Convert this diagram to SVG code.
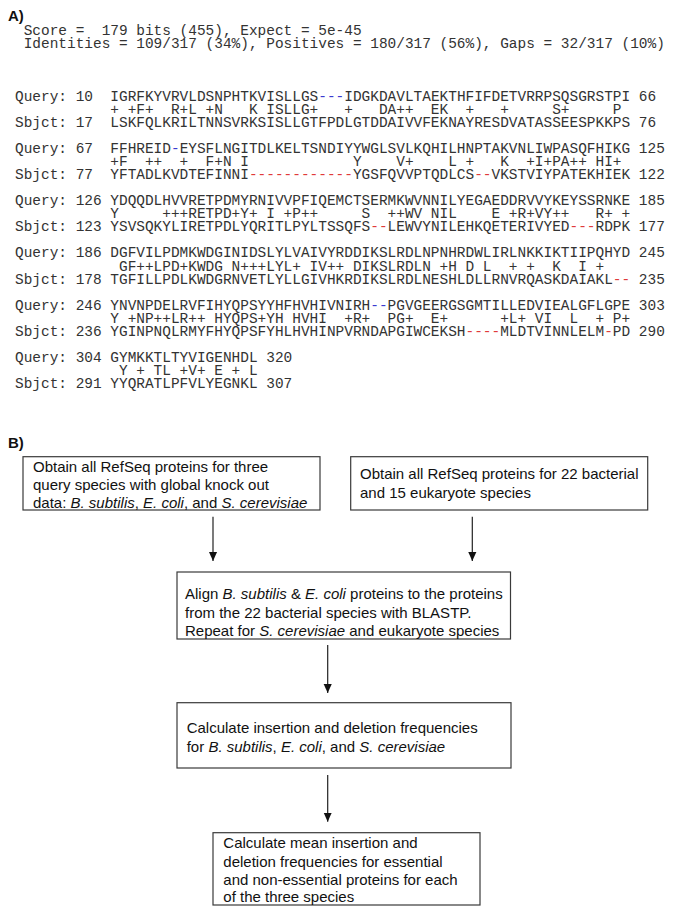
<svg xmlns="http://www.w3.org/2000/svg" width="685" height="913" viewBox="0 0 685 913">
<style>
.lbl{font-family:"Liberation Sans",Arial,sans-serif;font-weight:bold;font-size:15px;fill:#111}
.aln{font-family:"Liberation Mono","DejaVu Sans Mono",monospace;font-size:14.45px;fill:#333}
.gq{fill:#3a3ad0}
.gs{fill:#e03a3a}
.box{fill:#fff;stroke:#3a3a3a;stroke-width:1.2}
.bt{font-family:"Liberation Sans",Arial,sans-serif;font-size:15px;fill:#111}
.it{font-style:italic}
.con{stroke:#222;stroke-width:1.2;fill:none}
</style>
<defs>
<marker id="ah" viewBox="0 0 10 10" refX="10" refY="5" markerWidth="9" markerHeight="9" markerUnits="userSpaceOnUse" orient="auto">
<path d="M0,0.5 L10,5 L0,9.5 z" fill="#111"/>
</marker>
</defs>
<text class="lbl" x="8" y="21">A)</text>
<g id="header" class="aln">
<text x="15" y="35.2" xml:space="preserve"> Score =  179 bits (455), Expect = 5e-45</text>
<text x="15" y="48.2" xml:space="preserve"> Identities = 109/317 (34%), Positives = 180/317 (56%), Gaps = 32/317 (10%)</text>
</g>
<g id="alignment" class="aln">
<text x="15" y="100.5" xml:space="preserve">Query: 10  IGRFKYVRVLDSNPHTKVISLLGS<tspan class="gq">---</tspan>IDGKDAVLTAEKTHFIFDETVRRPSQSGRSTPI 66</text>
<text x="15" y="113.6" xml:space="preserve">           + +F+  R+L +N   K ISLLG+   +   DA++  EK  +   +     S+     P</text>
<text x="15" y="126.6" xml:space="preserve">Sbjct: 17  LSKFQLKRILTNNSVRKSISLLGTFPDLGTDDAIVVFEKNAYRESDVATASSEESPKKPS 76</text>

<text x="15" y="152.8" xml:space="preserve">Query: 67  FFHREID<tspan class="gq">-</tspan>EYSFLNGITDLKELTSNDIYYWGLSVLKQHILHNPTAKVNLIWPASQFHIKG 125</text>
<text x="15" y="165.9" xml:space="preserve">           +F  ++  +  F+N I            Y    V+    L +   K  +I+PA++ HI+</text>
<text x="15" y="178.9" xml:space="preserve">Sbjct: 77  YFTADLKVDTEFINNI<tspan class="gs">------------</tspan>YGSFQVVPTQDLCS<tspan class="gs">--</tspan>VKSTVIYPATEKHIEK 122</text>

<text x="15" y="205.1" xml:space="preserve">Query: 126 YDQQDLHVVRETPDMYRNIVVPFIQEMCTSERMKWVNNILYEGAEDDRVVYKEYSSRNKE 185</text>
<text x="15" y="218.2" xml:space="preserve">           Y     +++RETPD+Y+ I +P++     S  ++WV NIL    E +R+VY++   R+ +</text>
<text x="15" y="231.2" xml:space="preserve">Sbjct: 123 YSVSQKYLIRETPDLYQRITLPYLTSSQFS<tspan class="gs">--</tspan>LEWVYNILEHKQETERIVYED<tspan class="gs">---</tspan>RDPK 177</text>

<text x="15" y="257.4" xml:space="preserve">Query: 186 DGFVILPDMKWDGINIDSLYLVAIVYRDDIKSLRDLNPNHRDWLIRLNKKIKTIIPQHYD 245</text>
<text x="15" y="270.5" xml:space="preserve">            GF++LPD+KWDG N+++LYL+ IV++ DIKSLRDLN +H D L  + +  K  I +</text>
<text x="15" y="283.5" xml:space="preserve">Sbjct: 178 TGFILLPDLKWDGRNVETLYLLGIVHKRDIKSLRDLNESHLDLLRNVRQASKDAIAKL<tspan class="gs">--</tspan> 235</text>

<text x="15" y="309.7" xml:space="preserve">Query: 246 YNVNPDELRVFIHYQPSYYHFHVHIVNIRH<tspan class="gq">--</tspan>PGVGEERGSGMTILLEDVIEALGFLGPE 303</text>
<text x="15" y="322.8" xml:space="preserve">           Y +NP++LR++ HYQPS+YH HVHI  +R+  PG+  E+      +L+ VI  L  + P+</text>
<text x="15" y="335.8" xml:space="preserve">Sbjct: 236 YGINPNQLRMYFHYQPSFYHLHVHINPVRNDAPGIWCEKSH<tspan class="gs">----</tspan>MLDTVINNLELM<tspan class="gs">-</tspan>PD 290</text>

<text x="15" y="362" xml:space="preserve">Query: 304 GYMKKTLTYVIGENHDL 320</text>
<text x="15" y="375.1" xml:space="preserve">            Y + TL +V+ E + L</text>
<text x="15" y="388.1" xml:space="preserve">Sbjct: 291 YYQRATLPFVLYEGNKL 307</text>
</g>
<text class="lbl" x="8" y="448">B)</text>
<g id="node1">
<rect class="box" x="23" y="456.7" width="297" height="53.3"/>
<text class="bt" x="33" y="471.5">Obtain all RefSeq proteins for three</text>
<text class="bt" x="33" y="489.5">query species with global knock out</text>
<text class="bt" x="33" y="507.5">data: <tspan class="it">B. subtilis</tspan>, <tspan class="it">E. coli</tspan>, and <tspan class="it">S. cerevisiae</tspan></text>
</g>
<g id="node2">
<rect class="box" x="350.7" y="456.7" width="297" height="53.3"/>
<text class="bt" x="360" y="479.3">Obtain all RefSeq proteins for 22 bacterial</text>
<text class="bt" x="360" y="498">and 15 eukaryote species</text>
</g>
<g id="node3">
<rect class="box" x="177" y="572" width="333.5" height="67"/>
<text class="bt" x="185" y="599.3">Align <tspan class="it">B. subtilis</tspan> &amp; <tspan class="it">E. coli</tspan> proteins to the proteins</text>
<text class="bt" x="185" y="617.8">from the 22 bacterial species with BLASTP.</text>
<text class="bt" x="185" y="636.3">Repeat for <tspan class="it">S. cerevisiae</tspan> and eukaryote species</text>
</g>
<g id="node4">
<rect class="box" x="177" y="702.7" width="334" height="65.3"/>
<text class="bt" x="186.7" y="733">Calculate insertion and deletion frequencies</text>
<text class="bt" x="186.7" y="752">for <tspan class="it">B. subtilis</tspan>, <tspan class="it">E. coli</tspan>, and <tspan class="it">S. cerevisiae</tspan></text>
</g>
<g id="node5">
<rect class="box" x="213" y="832.7" width="267" height="72.3"/>
<text class="bt" x="223.3" y="848.3">Calculate mean insertion and</text>
<text class="bt" x="223.3" y="866.7">deletion frequencies for essential</text>
<text class="bt" x="223.3" y="885">and non-essential proteins for each</text>
<text class="bt" x="223.3" y="902">of the three species</text>
</g>
<g id="connectors">
<line id="e1" class="con" x1="213" y1="516.7" x2="213" y2="561" marker-end="url(#ah)"/>
<line id="e2" class="con" x1="472.3" y1="516.7" x2="472.3" y2="561" marker-end="url(#ah)"/>
<line id="e3" class="con" x1="327.7" y1="645" x2="327.7" y2="693" marker-end="url(#ah)"/>
<line id="e4" class="con" x1="327.7" y1="775" x2="327.7" y2="821.7" marker-end="url(#ah)"/>
</g>
</svg>
